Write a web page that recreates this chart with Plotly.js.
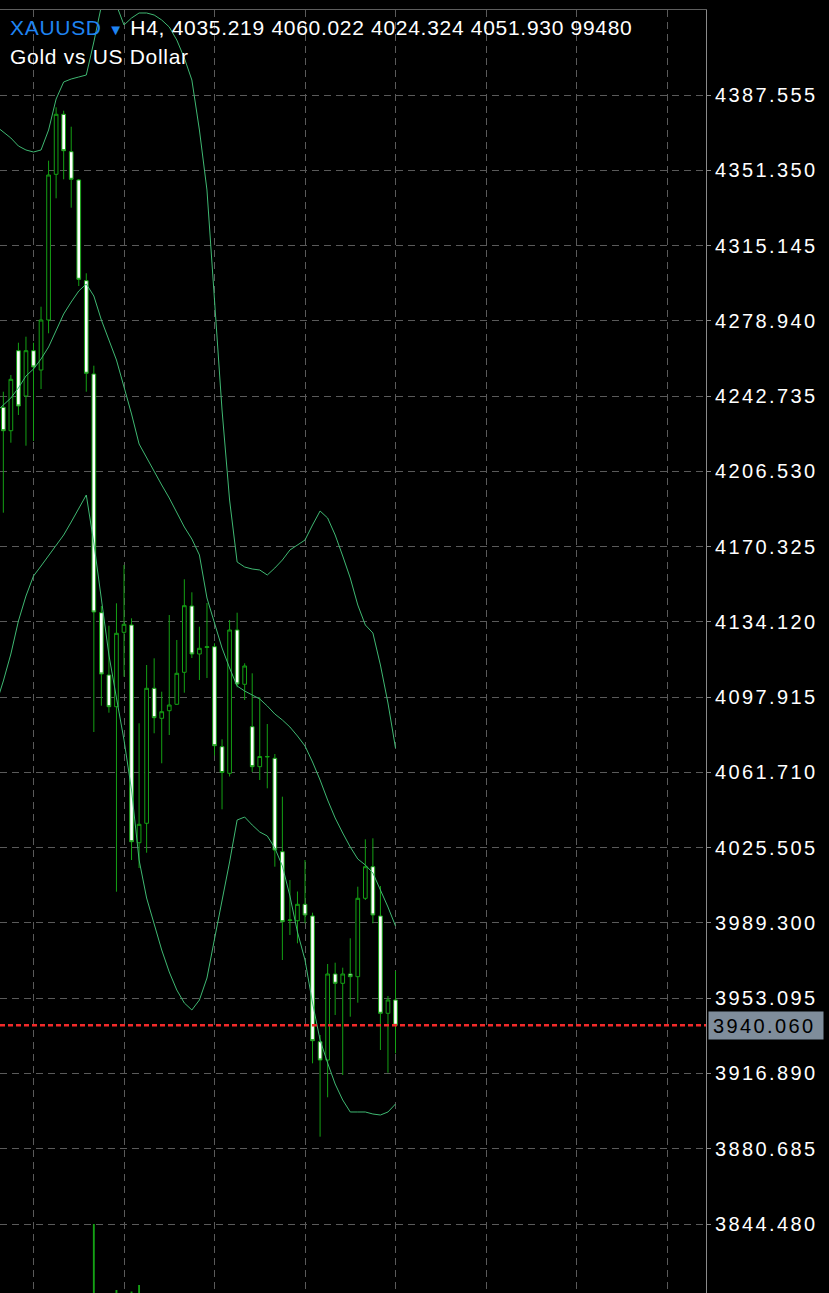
<!DOCTYPE html>
<html>
<head>
<meta charset="utf-8">
<script src="https://cdn.plot.ly/plotly-3.0.1.min.js"></script>
<style>
html,body{margin:0;padding:0;background:#000;overflow:hidden;}
#chart{width:829px;height:1293px;}
.ytick text{letter-spacing:2.4px;}
.annotation[data-index="0"] text,.annotation[data-index="1"] text{letter-spacing:0.7px;}
.annotation[data-index="2"] text{letter-spacing:2.4px;}
</style>
</head>
<body>
<div id="chart"></div>
<script>
// ---- data (XAUUSD H4) ----
const symbol = "XAUUSD";
const timeframe = "H4";
const description = "Gold vs US Dollar";
const headerOHLC = ["4035.219", "4060.022", "4024.324", "4051.930"];
const headerVolume = "99480";
const lastPrice = 3940.06;

const open = [4237.33,4226.07,4264.56,4242.77,4264.56,4255.27,4279.32,4349.41,4378.27,4360.28,
  4346.67,4298.23,4253.35,4138.53,4108.56,4093.31,4129.10,4132.61,4027.89,4037.23,
  4102.16,4087.73,4091.39,4094.47,4109.86,4141.75,4118.66,4121.79,4122.17,4074.07,
  4061.28,4130.21,4104.09,4083.69,4064.45,4069.12,4068.49,4023.56,3990.47,3990.37,
  3998.26,3992.64,3932.17,3923.37,3964.74,3960.26,3964.74,3963.44,4001.15,4016.35,
  3992.64,3945.83,3952.23];
const high = [4244.83,4252.87,4268.40,4271.29,4268.40,4285.72,4355.95,4381.64,4380.00,4372.30,
  4347.15,4301.79,4257.34,4141.75,4132.28,4143.05,4161.47,4135.83,4085.33,4113.37,
  4116.59,4100.53,4137.42,4125.40,4154.60,4148.34,4131.79,4143.19,4123.81,4077.63,
  4135.02,4138.53,4114.19,4109.38,4097.98,4084.99,4070.56,4050.02,4009.95,4004.42,
  4019.57,3994.22,3935.39,3969.55,3970.17,3967.77,3981.91,4006.73,4029.53,4030.01,
  4007.07,3954.15,3966.18];
const low = [4186.63,4220.30,4233.63,4218.86,4221.12,4246.13,4272.93,4337.86,4347.00,4333.34,
  4295.68,4244.83,4081.14,4093.79,4090.43,4004.32,4107.74,4019.57,4015.72,4023.08,
  4080.52,4066.09,4079.70,4094.13,4100.05,4116.74,4106.16,4107.12,4069.84,4043.96,
  4059.74,4102.65,4096.54,4061.90,4058.05,4054.06,4016.35,3971.47,3983.50,3979.50,
  3989.12,3921.78,3886.48,3905.43,3945.01,3916.15,3944.20,3950.93,4000.33,3989.12,
  3928.18,3917.26,3926.59];
const close = [4226.07,4250.80,4237.96,4264.56,4256.72,4279.32,4349.07,4378.27,4360.76,4347.00,
  4298.90,4253.69,4138.87,4109.04,4093.31,4128.62,4132.95,4028.38,4036.74,4102.16,
  4088.02,4090.91,4094.13,4109.38,4141.90,4118.66,4121.40,4122.17,4074.55,4061.66,
  4130.21,4104.23,4112.89,4064.45,4069.36,4069.36,4024.38,3989.89,3990.71,3998.26,
  3993.12,3932.65,3923.37,3964.74,3960.26,3964.74,3963.44,4001.15,4016.35,3993.12,
  3945.83,3952.23,3940.06];

// Bollinger band values (first point is the bar just left of the visible window)
const bandBars = [-1,0,1,2,3,4,5,6,7,8,9,10,11,12,13,14,15,16,17,18,19,20,21,22,23,24,25,26,
  27,28,29,30,31,32,33,34,35,36,37,38,39,40,41,42,43,44,45,46,47,48,49,50,51,52];
const upperBand = [4372.64,4369.76,4366.87,4363.02,4361.10,4360.13,4361.10,4370.72,4385.63,4393.81,
  4395.25,4396.21,4397.17,4413.05,4429.40,4447.68,4430.84,4421.22,4424.59,4427.00,
  4427.00,4426.03,4423.63,4420.26,4414.01,4405.35,4394.77,4370.72,4341.86,4291.35,
  4236.03,4192.74,4162.92,4160.51,4159.55,4159.07,4156.66,4160.03,4163.88,4168.69,
  4171.09,4173.50,4180.71,4187.45,4184.08,4175.90,4165.80,4155.22,4142.23,4132.61,
  4128.76,4113.37,4095.09,4073.45];
const middleBand = [4235.07,4238.44,4241.80,4246.61,4252.39,4255.75,4260.56,4266.34,4274.03,4282.21,
  4287.98,4293.27,4296.64,4290.87,4279.32,4269.70,4260.08,4247.10,4234.11,4219.68,
  4212.94,4206.69,4199.96,4193.70,4186.97,4179.75,4173.98,4166.28,4145.60,4134.06,
  4121.55,4111.93,4103.27,4100.87,4098.94,4097.02,4093.65,4089.80,4086.92,4083.55,
  4079.22,4074.41,4066.71,4058.05,4048.43,4039.78,4032.56,4025.83,4020.05,4017.17,
  4013.32,4005.14,3996.96,3987.83];
const lowerBand = [4094.13,4105.68,4118.66,4134.54,4146.56,4156.18,4160.99,4165.80,4170.61,4175.90,
  4182.16,4188.89,4195.15,4172.06,4144.64,4118.18,4097.50,4077.30,4053.24,4019.57,
  4001.29,3988.31,3976.28,3965.70,3957.04,3950.79,3947.42,3952.23,3962.81,3981.57,
  3999.37,4018.61,4038.81,4040.24,4036.41,4033.04,4031.12,4025.35,4016.69,4002.25,
  3984.94,3971.47,3950.79,3932.99,3921.93,3911.82,3904.13,3898.36,3898.36,3898.36,
  3897.39,3896.91,3898.36,3902.20];

// volume histogram (only the bars that reach into view)
const volumeBars = [12, 15, 17, 18];
const volume = [69, 3, 1.5, 8];

const priceTicks = [3844.480,3880.685,3916.890,3953.095,3989.300,4025.505,4061.710,4097.915,
  4134.120,4170.325,4206.530,4242.735,4278.940,4315.145,4351.350,4387.555];
const timeGrid = [4, 16, 28, 40, 52, 64, 76, 88];

// ---- chart ----
const bars = open.map((_, i) => i);
const candleGreen = '#14a014';
const bandGreen = '#3fb872';
const gridCol = '#5a5a5a';

const traces = [
  {type:'bar', x: volumeBars, y: volume, yaxis:'y2', width:0.25,
   marker:{color:candleGreen, line:{width:0}}, hoverinfo:'skip'},
  {type:'scatter', mode:'lines', x: bandBars, y: upperBand, line:{color:bandGreen, width:1}, hoverinfo:'skip'},
  {type:'scatter', mode:'lines', x: bandBars, y: middleBand, line:{color:bandGreen, width:1}, hoverinfo:'skip'},
  {type:'scatter', mode:'lines', x: bandBars, y: lowerBand, line:{color:bandGreen, width:1}, hoverinfo:'skip'},
  {type:'candlestick', x: bars, open: open, high: high, low: low, close: close,
   increasing:{line:{color:candleGreen, width:1}, fillcolor:'#000000'},
   decreasing:{line:{color:candleGreen, width:1}, fillcolor:'#ffffff'},
   whiskerwidth:0, hoverinfo:'skip'}
];

const plotTopPx = 10, plotHeightPx = 1283, plotWidthPx = 706;
const font = 'Liberation Sans, Arial, sans-serif';

const layout = {
  width: 829, height: 1293,
  margin: {l:0, r:123, t:10, b:0, pad:0},
  paper_bgcolor:'#000000', plot_bgcolor:'#000000',
  showlegend:false,
  dragmode:false,
  xaxis: {
    range:[-0.4415, 93.17], tickvals: timeGrid, showticklabels:false, ticks:'',
    showgrid:true, gridcolor:gridCol, gridwidth:1, griddash:'7px,5px',
    zeroline:false, showline:true, linecolor:'#5e5e5e', linewidth:1, side:'top',
    rangeslider:{visible:false}, fixedrange:true
  },
  yaxis: {
    range:[3811.29, 4428.44], side:'right', tickvals: priceTicks,
    ticktext: priceTicks.map(v => v.toFixed(3)),
    tickfont:{family:font, size:20, color:'#ffffff'},
    ticks:'outside', ticklen:4, tickcolor:'#8a8a8a', tickwidth:1,
    showgrid:true, gridcolor:gridCol, gridwidth:1, griddash:'7px,5px',
    showline:true, linecolor:'#8a8a8a', linewidth:1, zeroline:false, fixedrange:true
  },
  yaxis2: {overlaying:'y', range:[0, plotHeightPx], visible:false, fixedrange:true},
  shapes: [
    {type:'line', xref:'paper', yref:'y', x0:0, x1:1, y0:lastPrice, y1:lastPrice,
     line:{color:'#f22a2a', width:2.5, dash:'5px,3px'}, layer:'above'}
  ],
  annotations: [
    {xref:'paper', yref:'paper', x: 8/plotWidthPx, y: 1 - (28 - plotTopPx)/plotHeightPx,
     xanchor:'left', yanchor:'middle', align:'left', showarrow:false,
     text: '<span style="color:#1f84f2">' + symbol + '</span> <span style="color:#1f84f2;font-size:15px">▼</span> ' +
           timeframe + ', ' + headerOHLC.join(' ') + ' ' + headerVolume,
     font:{family:font, size:21, color:'#ffffff'}},
    {xref:'paper', yref:'paper', x: 8/plotWidthPx, y: 1 - (56 - plotTopPx)/plotHeightPx,
     xanchor:'left', yanchor:'middle', align:'left', showarrow:false,
     text: description, font:{family:font, size:21, color:'#ffffff'}},
    {xref:'paper', yref:'y', x:1, y:lastPrice, xanchor:'left', yanchor:'middle', xshift:2,
     showarrow:false, align:'left', width:106, height:19, borderpad:4, bgcolor:'#7f8d9b',
     text: lastPrice.toFixed(3), font:{family:font, size:20, color:'#000000'}}
  ]
};

Plotly.newPlot('chart', traces, layout, {staticPlot:true, displayModeBar:false});
</script>
</body>
</html>
